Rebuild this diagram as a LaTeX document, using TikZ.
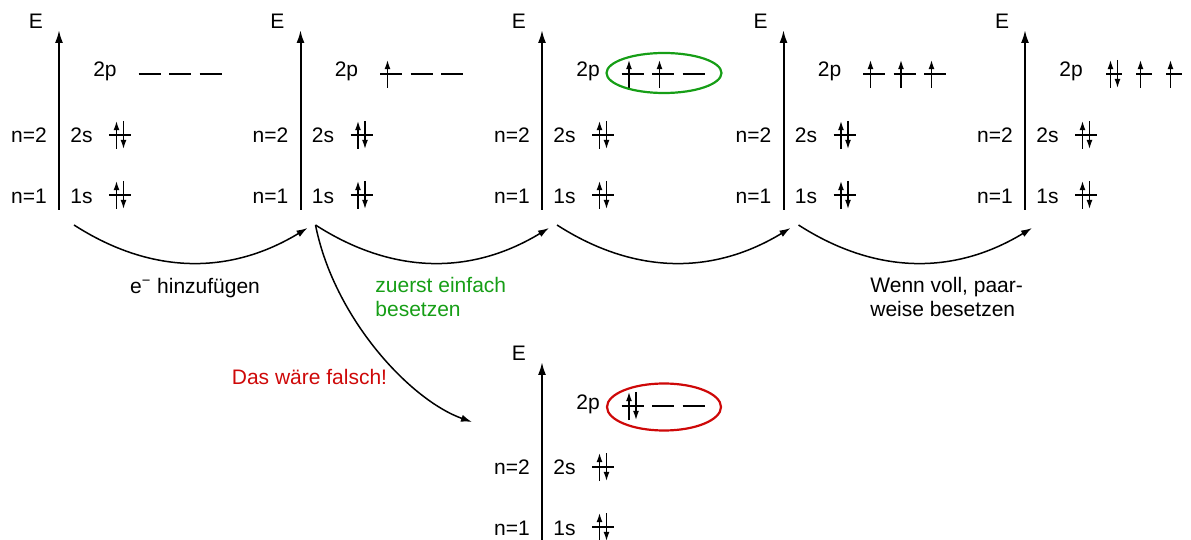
\documentclass[tikz,border=0pt]{standalone}
\usepackage{fontspec}
\setmainfont{Liberation Sans}
\usetikzlibrary{arrows.meta,shapes.geometric}

\definecolor{okgreen}{RGB}{22,158,22}
\definecolor{badred}{RGB}{206,8,8}

\tikzset{
  x=0.5pt, y=-0.5pt,
  lbl/.style={font=\fontsize{10.5}{12}\selectfont, inner sep=0pt},
  eaxis/.style={line width=1pt, -{Latex[length=6.5pt,width=4pt]}},
  level/.style={line width=0.6pt},
  spin/.style={line width=0.65pt, -{Latex[length=4.6pt,width=3pt]}},
  hop/.style={line width=0.75pt, -{Latex[length=5.5pt,width=3.6pt]}},
  ring/.style={draw, ellipse, line width=1.1pt, inner sep=0pt},
}

% one orbital: a short level line, optionally with spin arrows
\newcommand\orbwidth{11}
\newcommand\emptyorb[2]{\draw[level] (#1-\orbwidth,#2) -- (#1+\orbwidth,#2);}
\newcommand\uporb[2]{\emptyorb{#1}{#2}%
  \draw[spin] (#1-3.5,#2+14) -- (#1-3.5,#2-14);}
\newcommand\pairorb[2]{\emptyorb{#1}{#2}%
  \draw[spin] (#1-3.5,#2+14) -- (#1-3.5,#2-14);
  \draw[spin] (#1+3.5,#2-14) -- (#1+3.5,#2+14);}

% energy axis with 1s, 2s (filled) and the labels; #4 draws the 2p set
\newcommand\levelchart[4]{%
\begin{scope}[shift={(#2,#3)}]
  \coordinate (#1-base) at (0,210);
  \coordinate (#1-top) at (0,30);
  \coordinate (#1-out) at (15,225);
  \coordinate (#1-in) at (7,228);
  \draw[eaxis] (#1-base) -- (#1-top);
  \node[lbl, anchor=base] (#1-E) at (-23,29) {E};
  \node[lbl, anchor=base] (#1-n2) at (-30,142.5) {n=2};
  \node[lbl, anchor=base] (#1-n1) at (-30,203.5) {n=1};
  \node[lbl, anchor=base] (#1-2s) at (22.5,142.5) {2s};
  \node[lbl, anchor=base] (#1-1s) at (22.5,203.5) {1s};
  \node[lbl, anchor=base] (#1-2p) at (46,77) {2p};
  \pairorb{61}{135}
  \pairorb{61}{195}
  #4
\end{scope}}

\begin{document}
\begin{tikzpicture}
  \useasboundingbox (0,0) rectangle (1191,540);

  \levelchart{a}{59}{0}{\emptyorb{90.5}{74}\emptyorb{121}{74}\emptyorb{151.5}{74}}
  \levelchart{b}{300.5}{0}{\uporb{90.5}{74}\emptyorb{121}{74}\emptyorb{151.5}{74}}
  \levelchart{c}{542}{0}{\uporb{90.5}{74}\uporb{121}{74}\emptyorb{151.5}{74}}
  \levelchart{d}{783.5}{0}{\uporb{90.5}{74}\uporb{121}{74}\uporb{151.5}{74}}
  \levelchart{e}{1025}{0}{\renewcommand\orbwidth{8}\pairorb{89}{74}\uporb{119}{74}\uporb{149}{74}}
  \levelchart{f}{542}{332}{\pairorb{90.5}{74}\emptyorb{121}{74}\emptyorb{151.5}{74}}

  % the 2p sets that are ringed
  \node[ring, draw=okgreen, minimum width=57.5pt, minimum height=20pt] (c-ring) at (664,73) {};
  \node[ring, draw=badred, minimum width=57pt, minimum height=23.5pt] (f-ring) at (664,407) {};

  % steps from one filling to the next
  \draw[hop] (a-out) to[bend right=32] (b-in);
  \draw[hop] (b-out) to[bend right=32] (c-in);
  \draw[hop] (c-out) to[bend right=32] (d-in);
  \draw[hop] (d-out) to[bend right=32] (e-in);
  \coordinate (f-entry) at (472,422);
  \draw[hop] (b-out) .. controls (334,318) and (410,400) .. (f-entry);

  \node[lbl, anchor=base] (add) at (195,293) {e\textsuperscript{\char"2212}\ hinzufügen};
  \node[lbl, anchor=west, align=left, text=okgreen] (hund) at (375,297) {zuerst einfach\\besetzen};
  \node[lbl, anchor=west, align=left] (pair) at (870,297) {Wenn voll, paar-\\weise besetzen};
  \node[lbl, anchor=base, text=badred] (wrong) at (309.5,385) {Das wäre falsch!};
\end{tikzpicture}
\end{document}
